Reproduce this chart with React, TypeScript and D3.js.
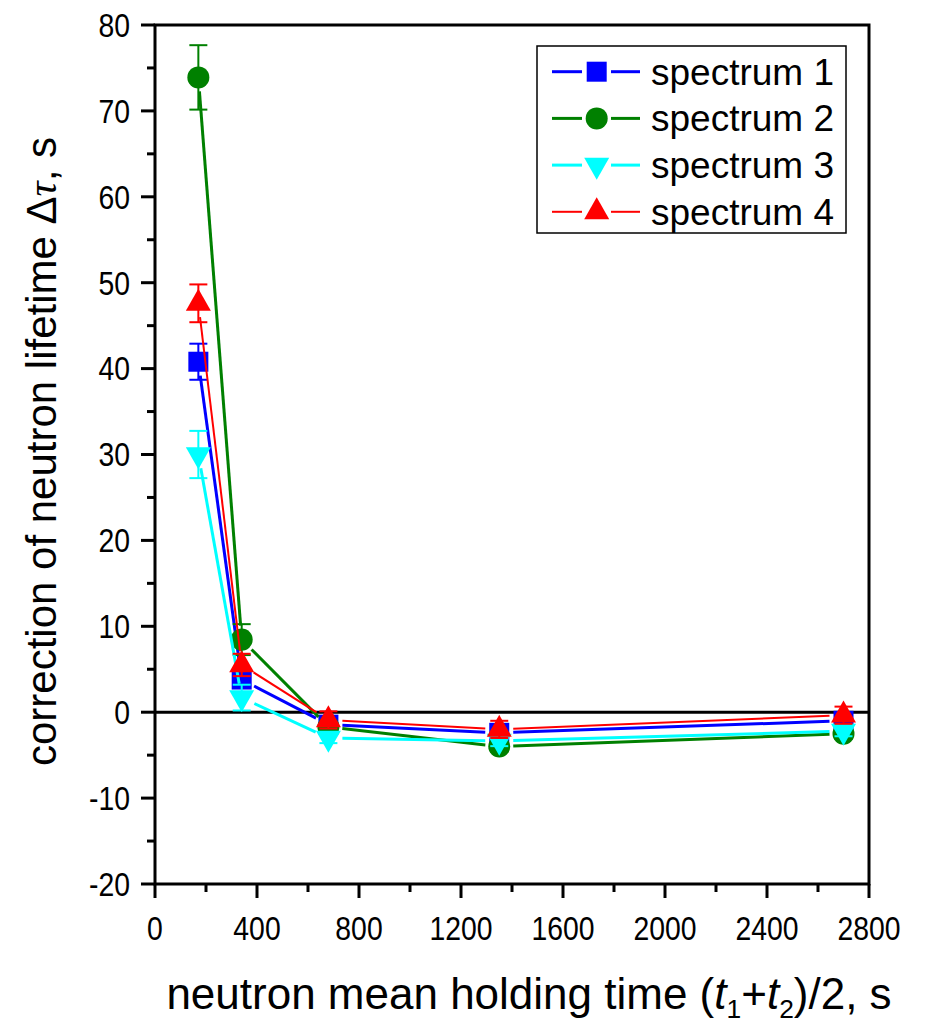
import React from "react";
import * as d3 from "d3";

const holdTimes = [170, 340, 680, 1350, 2700];
const seriesNames = ["spectrum 1", "spectrum 2", "spectrum 3", "spectrum 4"];
const spectrum1 = [40.8, 3.8, -1.45, -2.4, -1.0];
const spectrum2 = [73.9, 8.45, -1.7, -4.0, -2.5];
const spectrum3 = [30.0, 1.7, -3.0, -3.35, -2.2];
const spectrum4 = [47.6, 5.5, -0.9, -2.0, -0.35];
const error1 = [2.1, 0.8, 0.5, 0.5, 0.5];
const error2 = [3.75, 1.8, 0.5, 0.6, 0.6];
const error3 = [2.75, 1.5, 0.6, 0.6, 0.6];
const error4 = [2.2, 1.3, 1.0, 1.0, 1.0];
const xTicks = [0, 400, 800, 1200, 1600, 2000, 2400, 2800];
const yTicks = [-20, -10, 0, 10, 20, 30, 40, 50, 60, 70, 80];

const W = 928;
const H = 1028;
const L = 155, R = 869, T = 25, B = 884;

const FONT = "'Liberation Sans', Arial, sans-serif";

type Shape = "square" | "circle" | "down" | "up";
const seriesDefs: { name: string; vals: number[]; errs: number[]; color: string; lw: number; shape: Shape }[] = [
  { name: seriesNames[0], vals: spectrum1, errs: error1, color: "#0000FF", lw: 3, shape: "square" },
  { name: seriesNames[1], vals: spectrum2, errs: error2, color: "#008000", lw: 3, shape: "circle" },
  { name: seriesNames[2], vals: spectrum3, errs: error3, color: "#00FFFF", lw: 3, shape: "down" },
  { name: seriesNames[3], vals: spectrum4, errs: error4, color: "#FF0000", lw: 2, shape: "up" },
];

function Marker({ shape, x, y, color }: { shape: Shape; x: number; y: number; color: string }) {
  if (shape === "square") {
    const s = 20;
    return <rect x={x - s / 2} y={y - s / 2} width={s} height={s} fill={color} />;
  }
  if (shape === "circle") {
    return <circle cx={x} cy={y} r={11} fill={color} />;
  }
  const w = 25, h = 22;
  if (shape === "up") {
    const p = `M${x},${y - (2 * h) / 3}L${x + w / 2},${y + h / 3}L${x - w / 2},${y + h / 3}Z`;
    return <path d={p} fill={color} />;
  }
  const p = `M${x},${y + (2 * h) / 3}L${x + w / 2},${y - h / 3}L${x - w / 2},${y - h / 3}Z`;
  return <path d={p} fill={color} />;
}

export default function App() {
  const x = d3.scaleLinear().domain([0, 2800]).range([L, R]);
  const y = d3.scaleLinear().domain([-20, 80]).range([B, T]);
  const gap = 14;

  const xMinor = d3.range(0, 2801, 200);
  const yMinor = d3.range(-20, 81, 5);

  const tickFs = 33;
  const tickSx = 0.86;
  const legendFs = 37;
  const yTitleFs = 42;
  const xTitleFs = 44;

  return (
    <svg width={W} height={H} style={{ position: "absolute", left: 0, top: 0 }} fontFamily={FONT}>
      <rect width={W} height={H} fill="#fff" />
      {/* zero line */}
      <line x1={L} x2={R} y1={y(0)} y2={y(0)} stroke="#000" strokeWidth={3} />

      {seriesDefs.map((s, si) => {
        const pts = holdTimes.map((t, i) => [x(t), y(s.vals[i])] as [number, number]);
        const segs = pts.slice(0, -1).map((p, i) => {
          const q = pts[i + 1];
          const dx = q[0] - p[0], dy = q[1] - p[1];
          const len = Math.hypot(dx, dy);
          if (len <= 2 * gap) return null;
          const ux = dx / len, uy = dy / len;
          return (
            <line key={i} x1={p[0] + ux * gap} y1={p[1] + uy * gap} x2={q[0] - ux * gap} y2={q[1] - uy * gap}
              stroke={s.color} strokeWidth={s.lw} />
          );
        });
        return (
          <g key={si}>
            {segs}
            {pts.map((p, i) => (
              <Marker key={"m" + i} shape={s.shape} x={p[0]} y={p[1]} color={s.color} />
            ))}
            {holdTimes.map((t, i) => {
              const cx = x(t);
              const y1 = y(s.vals[i] + s.errs[i]);
              const y2 = y(s.vals[i] - s.errs[i]);
              return (
                <g key={"e" + i} stroke={s.color} strokeWidth={2}>
                  <line x1={cx} x2={cx} y1={y1} y2={y2} />
                  <line x1={cx - 9} x2={cx + 9} y1={y1} y2={y1} />
                  <line x1={cx - 9} x2={cx + 9} y1={y2} y2={y2} />
                </g>
              );
            })}
          </g>
        );
      })}

      {/* frame */}
      <rect x={L} y={T} width={R - L} height={B - T} fill="none" stroke="#000" strokeWidth={3} />

      {/* y ticks */}
      {yMinor.map((v) => {
        const major = v % 10 === 0;
        return <line key={"yt" + v} x1={L - (major ? 14 : 8)} x2={L} y1={y(v)} y2={y(v)} stroke="#000" strokeWidth={3} />;
      })}
      {yTicks.map((v) => (
        <text key={"yl" + v} transform={`translate(${L - 25},${y(v)}) scale(${tickSx},1)`} dy="0.36em" textAnchor="end" fontSize={tickFs}>
          {v}
        </text>
      ))}
      {/* x ticks */}
      {xMinor.map((v) => {
        const major = v % 400 === 0;
        return <line key={"xt" + v} x1={x(v)} x2={x(v)} y1={B} y2={B + (major ? 14 : 8)} stroke="#000" strokeWidth={3} />;
      })}
      {xTicks.map((v) => (
        <text key={"xl" + v} transform={`translate(${x(v)},${B + 56}) scale(${tickSx},1)`} textAnchor="middle" fontSize={tickFs}>
          {v}
        </text>
      ))}

      {/* axis titles */}
      <text transform={`translate(41,${(T + B) / 2 - 3}) rotate(-90)`} textAnchor="middle" dy="0.35em" fontSize={yTitleFs}>
        correction of neutron lifetime Δ<tspan fontStyle="italic" fontFamily="'Liberation Serif', serif">τ</tspan>, s
      </text>
      <text x={529} y={1009} textAnchor="middle" fontSize={xTitleFs}>
        neutron mean holding time (<tspan fontStyle="italic">t</tspan>
        <tspan fontSize={xTitleFs * 0.6} dy={9}>1</tspan>
        <tspan dy={-9}>+</tspan>
        <tspan fontStyle="italic">t</tspan>
        <tspan fontSize={xTitleFs * 0.6} dy={9}>2</tspan>
        <tspan dy={-9}>)/2, s</tspan>
      </text>

      {/* legend */}
      <rect x={537} y={46} width={309} height={187} fill="#fff" stroke="#000" strokeWidth={1.5} />
      {seriesDefs.map((s, i) => {
        const ly = 71.7 + i * 46.7;
        return (
          <g key={"lg" + i}>
            <line x1={552} x2={582} y1={ly} y2={ly} stroke={s.color} strokeWidth={s.lw} />
            <line x1={611} x2={640} y1={ly} y2={ly} stroke={s.color} strokeWidth={s.lw} />
            <Marker shape={s.shape} x={596.7} y={ly} color={s.color} />
            <text x={651} y={ly} dy="0.35em" fontSize={legendFs}>{s.name}</text>
          </g>
        );
      })}
    </svg>
  );
}
